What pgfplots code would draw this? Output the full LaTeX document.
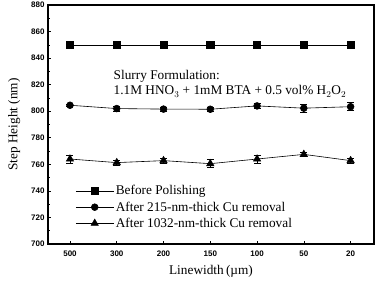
\documentclass[border=0pt]{standalone}
\usepackage{fontspec}
\setmainfont{Liberation Serif}
\newfontfamily\tickfont{Liberation Sans}
\usepackage{pgfplots}
\pgfplotsset{compat=1.18}
\begin{document}
\begin{tikzpicture}
\useasboundingbox (-48pt,-38pt) rectangle (329pt,244pt);
\begin{axis}[
  at={(0,0)}, anchor=south west,
  scale only axis, width=326pt, height=239pt,
  xmin=-0.47, xmax=6.5, ymin=700, ymax=880,
  xtick={0,...,6}, xticklabels={500,300,200,150,100,50,20},
  ytick={700,720,...,880}, minor y tick num=1,
  tick align=inside, xtick pos=bottom, ytick pos=left,
  major tick length=3.5pt, minor tick length=2.5pt,
  /pgf/number format/assume math mode=true,
  /pgf/number format/1000 sep={},
  tick label style={font=\tickfont\bfseries\fontsize{8}{9}\selectfont},
  xticklabel style={yshift=-3pt},
  xlabel={Linewidth\,(\textmu m)}, ylabel={Step Height (nm)},
  label style={font=\fontsize{13.3}{15}\selectfont},
  xlabel style={yshift=-2pt},
  ylabel shift=4pt,
  axis line style={line width=1.1pt},
  every tick/.style={black, line width=0.6pt},
  legend style={draw=none, fill=none, at={(0.075,0.262)}, anchor=north west,
    font=\fontsize{13.3}{15}\selectfont, row sep=1.3pt},
  legend cell align=left,
  legend image code/.code={\draw[mark repeat=2,mark phase=2] plot coordinates {(0cm,0cm) (0.66cm,0cm) (1.32cm,0cm)};},
]
\addplot[black, line width=0.6pt, mark=square*, mark size=3.6pt] coordinates {
(0,850) (1,850) (2,850) (3,850) (4,850) (5,850) (6,850)};
\addlegendentry{Before Polishing}
\addplot[black, line width=0.6pt, mark=*, mark size=3.4pt, error bars/.cd, y dir=both, y explicit,
  error bar style={line width=0.8pt},
  error mark options={rotate=90, mark size=3.5pt, black, line width=0.8pt}] coordinates {
(0,804.5) +- (0,1)
(1,802) +- (0,1.8)
(2,801.6) +- (0,1.5)
(3,801.5) +- (0,1.5)
(4,804) +- (0,2)
(5,802.3) +- (0,3)
(6,803.4) +- (0,3)};
\addlegendentry{After 215-nm-thick Cu removal}
\addplot[black, line width=0.6pt, mark=triangle*, mark size=4.2pt, error bars/.cd, y dir=both, y explicit,
  error bar style={line width=0.8pt},
  error mark options={rotate=90, mark size=3.5pt, black, line width=0.8pt}] coordinates {
(0,764) +- (0,3)
(1,761.3) +- (0,2)
(2,762.8) +- (0,2)
(3,760.5) +- (0,3)
(4,764) +- (0,3)
(5,767.5) +- (0,1.5)
(6,762.8) +- (0,2)};
\addlegendentry{After 1032-nm-thick Cu removal}
\node[anchor=north west, align=left, font=\fontsize{13.3}{15.5}\selectfont, inner sep=0pt]
  at (axis cs:0.93,831) {Slurry Formulation:\\1.1M HNO$_3$ + 1mM BTA + 0.5 vol\% H$_2$O$_2$};
\end{axis}
\end{tikzpicture}
\end{document}
